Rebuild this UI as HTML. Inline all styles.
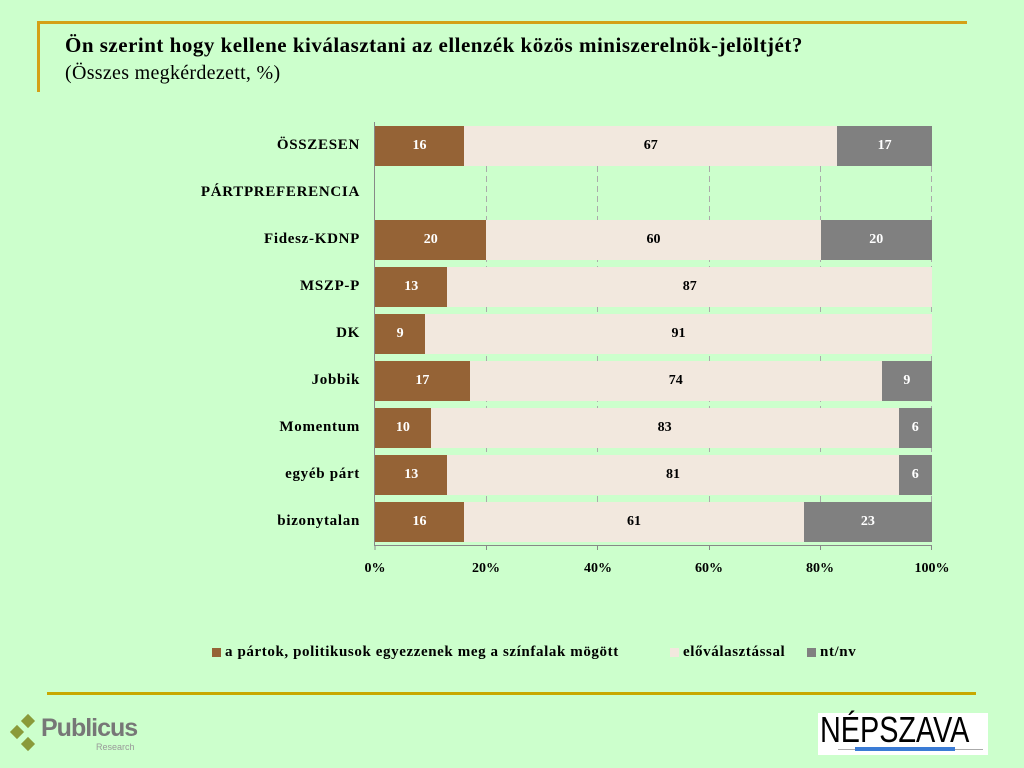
<!DOCTYPE html>
<html><head><meta charset="utf-8"><style>
body{margin:0;width:1024px;height:768px;background:#ccffcc;position:relative;overflow:hidden;font-family:"Liberation Serif",serif}
.a{position:absolute}
.lbl{position:absolute;right:664px;font-weight:bold;font-size:15px;letter-spacing:0.7px;text-align:right;white-space:nowrap}
.bar{position:absolute;height:40px;display:flex}
.bar div{height:40px;line-height:40px;text-align:center;font-weight:bold;font-size:14px}
.b{background:#956336;color:#fff}.c{background:#f2e8de;color:#000}.g{background:#808080;color:#fff}
.tick{position:absolute;top:561px;font-size:14px;font-weight:bold;width:60px;text-align:center}
.lg{position:absolute;top:644px;font-size:15px;font-weight:bold;letter-spacing:0.6px;white-space:nowrap}
</style></head><body>
<div class="a" style="left:38px;top:21px;width:929px;height:3px;background:#d4a017"></div>
<div class="a" style="left:37px;top:21px;width:3px;height:71px;background:#d4a017"></div>
<div class="a" style="left:65px;top:33px;font-size:21px;letter-spacing:0.5px;font-weight:bold;white-space:nowrap">Ön szerint hogy kellene kiválasztani az ellenzék közös miniszerelnök-jelöltjét?</div>
<div class="a" style="left:65px;top:62px;font-size:20px;letter-spacing:0.3px;white-space:nowrap">(Összes megkérdezett, %)</div>

<svg class="a" style="left:0;top:0" width="1024" height="768">
<g stroke="#aaa" stroke-dasharray="6,4" stroke-width="1">
<line x1="486.5" y1="126" x2="486.5" y2="545"/><line x1="597.5" y1="126" x2="597.5" y2="545"/>
<line x1="709.5" y1="126" x2="709.5" y2="545"/><line x1="820.5" y1="126" x2="820.5" y2="545"/>
<line x1="931.5" y1="126" x2="931.5" y2="545"/></g>
<line x1="375" y1="545.5" x2="932" y2="545.5" stroke="#888"/>
<line x1="374.5" y1="122" x2="374.5" y2="546" stroke="#888"/>
<g stroke="#888"><line x1="375" y1="545" x2="375" y2="550"/><line x1="486.5" y1="545" x2="486.5" y2="550"/><line x1="597.5" y1="545" x2="597.5" y2="550"/><line x1="709.5" y1="545" x2="709.5" y2="550"/><line x1="820.5" y1="545" x2="820.5" y2="550"/><line x1="931.5" y1="545" x2="931.5" y2="550"/></g>
</svg>

<div class="lbl" style="top:137px">ÖSSZESEN</div>
<div class="lbl" style="top:184px">PÁRTPREFERENCIA</div>
<div class="lbl" style="top:231px">Fidesz-KDNP</div>
<div class="lbl" style="top:278px">MSZP-P</div>
<div class="lbl" style="top:325px">DK</div>
<div class="lbl" style="top:372px">Jobbik</div>
<div class="lbl" style="top:419px">Momentum</div>
<div class="lbl" style="top:466px">egyéb párt</div>
<div class="lbl" style="top:513px">bizonytalan</div>

<div class="bar" style="left:375px;top:126px;width:557px"><div class="b" style="width:16%">16</div><div class="c" style="width:67%">67</div><div class="g" style="width:17%">17</div></div>
<div class="bar" style="left:375px;top:220px;width:557px"><div class="b" style="width:20%">20</div><div class="c" style="width:60%">60</div><div class="g" style="width:20%">20</div></div>
<div class="bar" style="left:375px;top:267px;width:557px"><div class="b" style="width:13%">13</div><div class="c" style="width:87%">87</div></div>
<div class="bar" style="left:375px;top:314px;width:557px"><div class="b" style="width:9%">9</div><div class="c" style="width:91%">91</div></div>
<div class="bar" style="left:375px;top:361px;width:557px"><div class="b" style="width:17%">17</div><div class="c" style="width:74%">74</div><div class="g" style="width:9%">9</div></div>
<div class="bar" style="left:375px;top:408px;width:557px"><div class="b" style="width:10%">10</div><div class="c" style="width:84%">83</div><div class="g" style="width:6%">6</div></div>
<div class="bar" style="left:375px;top:455px;width:557px"><div class="b" style="width:13%">13</div><div class="c" style="width:81%">81</div><div class="g" style="width:6%">6</div></div>
<div class="bar" style="left:375px;top:502px;width:557px"><div class="b" style="width:16%">16</div><div class="c" style="width:61%">61</div><div class="g" style="width:23%">23</div></div>

<div class="tick" style="left:345px">0%</div><div class="tick" style="left:456px">20%</div><div class="tick" style="left:568px">40%</div><div class="tick" style="left:679px">60%</div><div class="tick" style="left:790px">80%</div><div class="tick" style="left:902px">100%</div>

<div class="a" style="left:212px;top:648px;width:9px;height:9px;background:#956336"></div>
<div class="lg" style="left:225px">a pártok, politikusok egyezzenek meg a színfalak mögött</div>
<div class="a" style="left:670px;top:648px;width:9px;height:9px;background:#f2e8de"></div>
<div class="lg" style="left:683px">előválasztással</div>
<div class="a" style="left:807px;top:648px;width:9px;height:9px;background:#808080"></div>
<div class="lg" style="left:820px">nt/nv</div>

<div class="a" style="left:47px;top:692px;width:929px;height:3px;background:#c8a800"></div>

<svg class="a" style="left:6px;top:712px" width="40" height="46">
<g fill="#8a9a3a"><rect x="17" y="4" width="10" height="10" transform="rotate(45 22 9)"/><rect x="6" y="15" width="10" height="10" transform="rotate(45 11 20)"/><rect x="17" y="27" width="10" height="10" transform="rotate(45 22 32)"/></g></svg>
<div class="a" style="left:41px;top:714px;font-family:'Liberation Sans',sans-serif;font-weight:bold;font-size:25px;color:#777;letter-spacing:-1px">Publicus</div>
<div class="a" style="left:96px;top:742px;font-family:'Liberation Sans',sans-serif;font-size:9px;color:#999">Research</div>

<div class="a" style="left:818px;top:713px;width:170px;height:42px;background:#fff"></div>
<div class="a" style="left:820px;top:709px;font-family:'Liberation Sans',sans-serif;font-size:36px;color:#000;transform:scaleX(0.8);transform-origin:left">NÉPSZAVA</div>
<div class="a" style="left:838px;top:749px;width:145px;height:1px;background:#aaa"></div>
<div class="a" style="left:855px;top:747px;width:100px;height:4px;background:#3a7bd5"></div>
</body></html>
